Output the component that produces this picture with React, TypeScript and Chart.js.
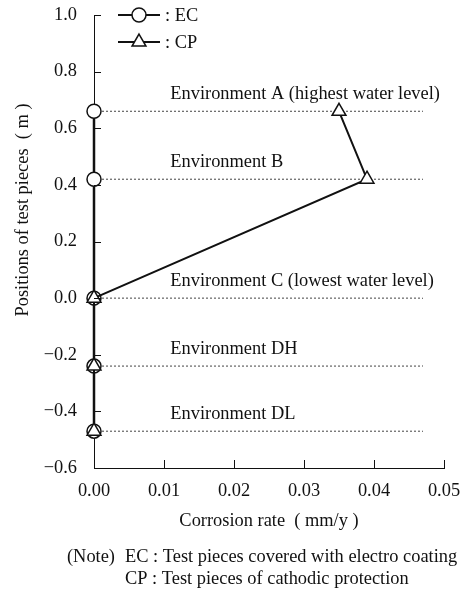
import React, { useEffect, useRef } from "react";
import { Chart, registerables } from "chart.js";

Chart.register(...registerables);

// ---- data ----
const positions = [0.66, 0.42, 0.0, -0.24, -0.47];
const ecRates = [0, 0, 0, 0, 0];
const cpRates = [0.035, 0.039, 0, 0, 0];
const envLabels = [
  "Environment A (highest water level)",
  "Environment B",
  "Environment C (lowest water level)",
  "Environment DH",
  "Environment DL",
];
const envLineStart = 0;
const envLineEnd = 0.047;
const envLabelX = 0.0109;
const yTicks = [-0.6, -0.4, -0.2, 0.0, 0.2, 0.4, 0.6, 0.8, 1.0];
const xTicks = [0, 0.01, 0.02, 0.03, 0.04, 0.05];
const legendLabels = [": EC", ": CP"];
const xTitle = "Corrosion rate\u00a0 ( mm/y )";
const yTitle = "Positions of test pieces\u00a0 ( m )";
const noteHead = "(Note)";
const noteLines = [
  "EC : Test pieces covered with electro coating",
  "CP : Test pieces of cathodic protection",
];

const FONT = "Liberation Serif, 'Times New Roman', serif";
const FS = 18.4;
const INK = "#111";

function fmtY(v: number) {
  const s = Math.abs(v).toFixed(1);
  return v < -1e-9 ? "\u2212" + s : s;
}

const decorPlugin = {
  id: "decor",
  afterDraw(chart: any) {
    const ctx = chart.ctx as CanvasRenderingContext2D;
    const xs = chart.scales.x;
    const ys = chart.scales.y;
    const area = chart.chartArea;
    ctx.save();
    ctx.strokeStyle = INK;
    ctx.lineWidth = 1;
    // inward tick marks
    ctx.beginPath();
    yTicks.forEach((v) => {
      const py = Math.round(ys.getPixelForValue(v)) + 0.5;
      ctx.moveTo(area.left, py);
      ctx.lineTo(area.left + 7, py);
    });
    xTicks.forEach((v) => {
      const px = Math.round(xs.getPixelForValue(v)) + 0.5;
      ctx.moveTo(px, area.bottom);
      ctx.lineTo(px, area.bottom - 8);
    });
    ctx.stroke();

    ctx.fillStyle = INK;
    ctx.font = `${FS}px ${FONT}`;
    ctx.textBaseline = "middle";
    ctx.textAlign = "left";

    // environment labels
    envLabels.forEach((lab, i) => {
      const px = xs.getPixelForValue(envLabelX);
      const py = ys.getPixelForValue(positions[i]) - 17;
      ctx.fillText(lab, px, py);
    });

    // legend
    const lx0 = 118, lx1 = 160, lmx = 139;
    [15, 42].forEach((ly, i) => {
      ctx.lineWidth = 2;
      ctx.beginPath();
      ctx.moveTo(lx0, ly);
      ctx.lineTo(lx1, ly);
      ctx.stroke();
      ctx.lineWidth = 1.5;
      ctx.fillStyle = "#fff";
      ctx.beginPath();
      if (i === 0) {
        ctx.arc(lmx, ly, 7, 0, Math.PI * 2);
      } else {
        const r = 8;
        ctx.moveTo(lmx, ly - r);
        ctx.lineTo(lmx + r * Math.sin(Math.PI / 3), ly + r * 0.5);
        ctx.lineTo(lmx - r * Math.sin(Math.PI / 3), ly + r * 0.5);
        ctx.closePath();
      }
      ctx.fill();
      ctx.stroke();
      ctx.fillStyle = INK;
      ctx.fillText(legendLabels[i], 165, ly + 1);
    });

    // axis titles
    ctx.textAlign = "center";
    ctx.fillText(xTitle, (area.left + area.right) / 2, 521);
    ctx.save();
    ctx.translate(23, 210);
    ctx.rotate(-Math.PI / 2);
    ctx.fillText(yTitle, 0, 0);
    ctx.restore();

    // note
    ctx.textAlign = "left";
    ctx.fillText(noteHead, 67, 557);
    ctx.fillText(noteLines[0], 125, 557);
    ctx.fillText(noteLines[1], 125, 579);
    ctx.restore();
  },
};

export default function App() {
  const ref = useRef<HTMLCanvasElement | null>(null);
  useEffect(() => {
    if (!ref.current) return;
    const envSets = positions.map((p) => ({
      data: [
        { x: envLineStart, y: p },
        { x: envLineEnd, y: p },
      ],
      borderColor: "#444",
      borderWidth: 1,
      borderDash: [2, 2],
      pointRadius: 0,
      order: 10,
      clip: false as any,
    }));
    const chart = new Chart(ref.current, {
      type: "line",
      data: {
        datasets: [
          ...envSets,
          {
            label: "EC",
            data: positions.map((p, i) => ({ x: ecRates[i], y: p })),
            borderColor: INK,
            borderWidth: 2.5,
            pointStyle: "circle",
            pointRadius: 7,
            pointBackgroundColor: "#fff",
            pointBorderColor: INK,
            pointBorderWidth: 1.5,
            order: 2,
            clip: false as any,
          },
          {
            label: "CP",
            data: positions.map((p, i) => ({ x: cpRates[i], y: p })),
            borderColor: INK,
            borderWidth: 2,
            pointStyle: "triangle",
            pointRadius: 8,
            pointBackgroundColor: "#fff",
            pointBorderColor: INK,
            pointBorderWidth: 1.5,
            order: 1,
            clip: false as any,
          },
        ] as any,
      },
      options: {
        animation: false,
        responsive: false,
        devicePixelRatio: 1,
        layout: { padding: { left: 0, top: 15, right: 19, bottom: 0 } },
        plugins: { legend: { display: false }, tooltip: { enabled: false } },
        elements: { line: { tension: 0 } },
        scales: {
          x: {
            type: "linear",
            min: 0,
            max: 0.05,
            afterBuildTicks: (s: any) => {
              s.ticks = xTicks.map((v) => ({ value: v }));
            },
            afterFit: (s: any) => {
              s.height = 122;
              s.paddingLeft = 0;
              s.paddingRight = 0;
            },
            ticks: {
              callback: (v: any) => Number(v).toFixed(2),
              font: { family: FONT, size: FS },
              color: INK,
              padding: 12,
              maxRotation: 0,
              autoSkip: false,
            },
            grid: { display: false, drawTicks: false },
            border: { display: true, color: INK, width: 1 },
          },
          y: {
            type: "linear",
            min: -0.6,
            max: 1.0,
            afterBuildTicks: (s: any) => {
              s.ticks = yTicks.map((v) => ({ value: v }));
            },
            afterFit: (s: any) => {
              s.width = 94;
              s.paddingTop = 0;
              s.paddingBottom = 0;
            },
            ticks: {
              callback: (v: any) => fmtY(Number(v)),
              font: { family: FONT, size: FS },
              color: INK,
              padding: 17,
              autoSkip: false,
            },
            grid: { display: false, drawTicks: false },
            border: { display: true, color: INK, width: 1 },
          },
        },
      } as any,
      plugins: [decorPlugin],
    });
    return () => chart.destroy();
  }, []);
  return (
    <div
      style={{
        position: "fixed",
        left: 0,
        top: 0,
        width: 463,
        height: 590,
        background: "#fff",
      }}
    >
      <canvas ref={ref} width={463} height={590} />
    </div>
  );
}
